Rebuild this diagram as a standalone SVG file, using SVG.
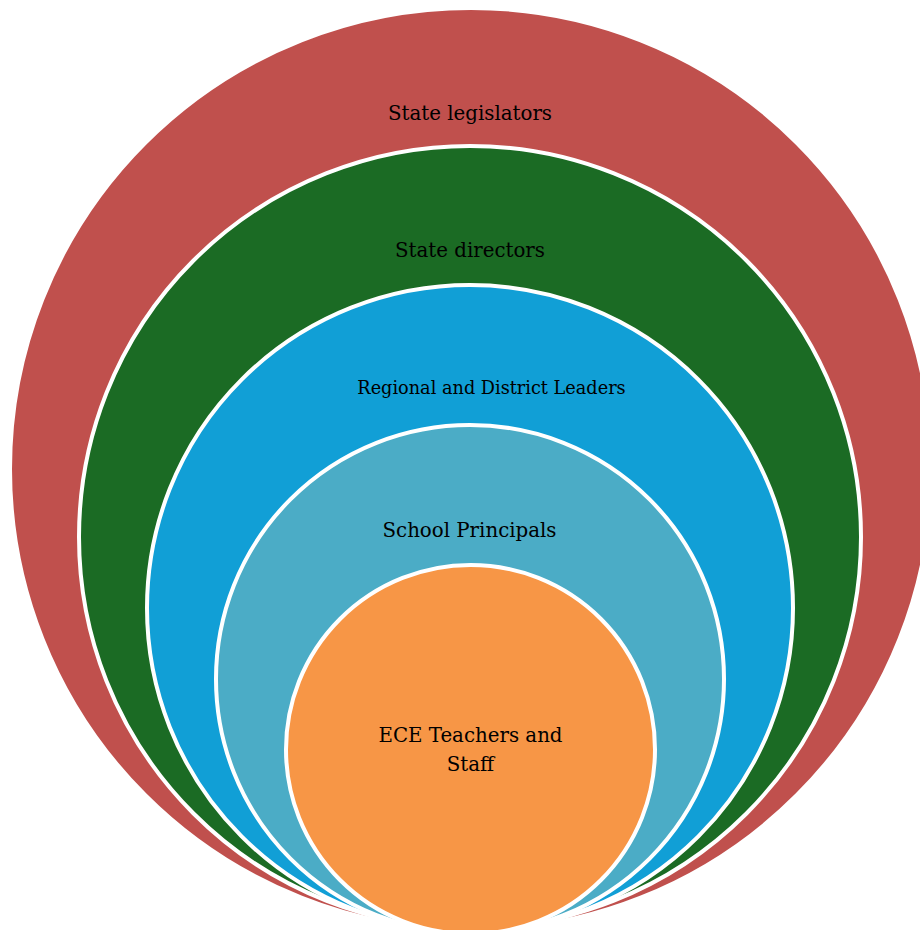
<svg xmlns="http://www.w3.org/2000/svg" width="920" height="930" viewBox="0 0 920 930">
<style>
.ring{stroke:#fff;stroke-width:4}
.lbl{font-family:"DejaVu Serif","Liberation Serif",serif;font-size:19.8px;fill:#000;text-anchor:middle}
</style>
<rect width="920" height="930" fill="#fff"/>
<g id="state-legislators">
<circle class="ring" cx="471" cy="469" r="461" fill="#C0504D"/>
<text class="lbl" x="470" y="120">State legislators</text>
</g>
<g id="state-directors">
<circle class="ring" cx="470" cy="537" r="391" fill="#1B6B24"/>
<text class="lbl" x="470" y="257">State directors</text>
</g>
<g id="regional-district-leaders">
<circle class="ring" cx="470" cy="608" r="323" fill="#119FD6"/>
<text class="lbl" x="491.5" y="394" style="font-size:17.7px">Regional and District Leaders</text>
</g>
<g id="school-principals">
<circle class="ring" cx="470" cy="679" r="254" fill="#4BACC6"/>
<text class="lbl" x="469.5" y="537">School Principals</text>
</g>
<g id="ece-teachers-staff">
<circle class="ring" cx="470.5" cy="749.5" r="184.5" fill="#F79646"/>
<text class="lbl" x="470.5" y="742">ECE Teachers and</text>
<text class="lbl" x="470.5" y="771">Staff</text>
</g>
<g id="connectors"/>
</svg>
